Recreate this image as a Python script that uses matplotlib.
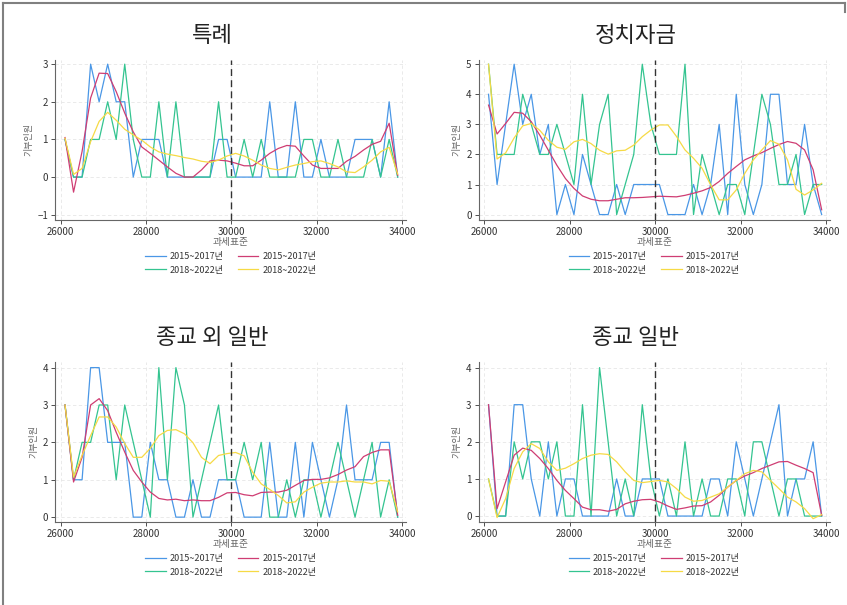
import matplotlib
matplotlib.use("Agg")
import matplotlib.pyplot as plt
from matplotlib.lines import Line2D

plt.rcParams["font.family"] = ["Noto Sans CJK KR", "DejaVu Sans"]

# 과세표준 bins (midpoints)
tax_base = [26100, 26300, 26500, 26700, 26900, 27100, 27300, 27500, 27700, 27900,
            28100, 28300, 28500, 28700, 28900, 29100, 29300, 29500, 29700, 29900,
            30100, 30300, 30500, 30700, 30900, 31100, 31300, 31500, 31700, 31900,
            32100, 32300, 32500, 32700, 32900, 33100, 33300, 33500, 33700, 33900]

titles = ["특례", "정치자금", "종교 외 일반", "종교 일반"]
legend_labels = ["2015~2017년", "2018~2022년", "2015~2017년", "2018~2022년"]

# panel 1: 특례
p1_raw_1517 = [1, 0, 0, 3, 2, 3, 2, 2, 0, 1, 1, 1, 0, 0, 0, 0, 0, 0, 1, 1,
               0, 0, 0, 0, 2, 0, 0, 2, 0, 0, 1, 0, 0, 0, 1, 1, 1, 0, 2, 0]
p1_raw_1822 = [1, 0, 0, 1, 1, 2, 1, 3, 1, 0, 0, 2, 0, 2, 0, 0, 0, 0, 2, 0,
               0, 1, 0, 1, 0, 0, 0, 0, 1, 1, 0, 0, 1, 0, 0, 0, 1, 0, 1, 0]
p1_fit_1517 = [1.05, -0.4, 0.68, 2.1, 2.76, 2.75, 2.27, 1.7, 1.2, 0.8,
               0.63, 0.45, 0.27, 0.1, 0.0, 0.0, 0.19, 0.43, 0.45, 0.43,
               0.37, 0.3, 0.3, 0.45, 0.63, 0.76, 0.84, 0.82, 0.56, 0.32,
               0.23, 0.23, 0.23, 0.42, 0.55, 0.72, 0.87, 0.95, 1.43, 0.05]
p1_fit_1822 = [1.03, 0.07, 0.23, 0.94, 1.48, 1.72, 1.51, 1.27, 1.12, 0.98,
               0.8, 0.67, 0.61, 0.57, 0.52, 0.48, 0.42, 0.39, 0.45, 0.56,
               0.63, 0.56, 0.45, 0.32, 0.23, 0.19, 0.26, 0.32, 0.36, 0.41,
               0.43, 0.36, 0.27, 0.14, 0.12, 0.27, 0.45, 0.67, 0.79, 0.08]

# panel 2: 정치자금
p2_raw_1517 = [4, 1, 3, 5, 3, 4, 2, 3, 0, 1, 0, 2, 1, 0, 0, 1, 0, 1, 1, 1,
               1, 0, 0, 0, 1, 0, 1, 3, 0, 4, 1, 0, 1, 4, 4, 1, 1, 3, 1, 0]
p2_raw_1822 = [5, 2, 2, 2, 4, 3, 2, 2, 3, 2, 1, 4, 1, 3, 4, 0, 1, 2, 5, 3,
               2, 2, 2, 5, 0, 2, 1, 0, 1, 1, 0, 2, 4, 3, 1, 1, 2, 0, 1, 1]
p2_fit_1517 = [3.64, 2.68, 3.03, 3.4, 3.37, 3.09, 2.64, 2.14, 1.64, 1.2,
               0.87, 0.62, 0.51, 0.46, 0.46, 0.51, 0.56, 0.56, 0.57, 0.59,
               0.61, 0.6, 0.59, 0.64, 0.71, 0.79, 0.9, 1.1, 1.37, 1.6,
               1.82, 1.95, 2.06, 2.2, 2.33, 2.43, 2.37, 2.15, 1.49, 0.16]
p2_fit_1822 = [5.0, 1.85, 2.05, 2.55, 2.95, 3.03, 2.8, 2.47, 2.24, 2.17,
               2.42, 2.5, 2.36, 2.14, 2.01, 2.12, 2.14, 2.31, 2.59, 2.81,
               2.98, 2.98, 2.6, 2.15, 1.87, 1.54, 0.99, 0.49, 0.49, 0.82,
               1.37, 1.82, 2.15, 2.46, 2.34, 1.82, 0.84, 0.65, 0.82, 1.04]

# panel 3: 종교 외 일반
p3_raw_1517 = [3, 1, 1, 4, 4, 2, 2, 2, 0, 0, 2, 1, 1, 0, 0, 1, 0, 0, 1, 1,
               1, 0, 0, 0, 2, 0, 0, 2, 0, 2, 1, 0, 1, 3, 1, 1, 1, 2, 2, 0]
p3_raw_1822 = [3, 1, 2, 2, 3, 3, 1, 3, 2, 1, 0, 4, 1, 4, 3, 0, 1, 2, 3, 1,
               1, 2, 1, 2, 0, 0, 1, 0, 1, 1, 0, 1, 2, 1, 0, 1, 2, 0, 1, 0]
p3_fit_1517 = [3.0, 0.94, 1.6, 3.0, 3.17, 2.85, 2.27, 1.74, 1.25, 0.94,
               0.67, 0.5, 0.46, 0.48, 0.44, 0.46, 0.44, 0.44, 0.53, 0.65,
               0.66, 0.6, 0.57, 0.66, 0.67, 0.67, 0.72, 0.85, 0.98, 1.01,
               1.01, 1.05, 1.14, 1.26, 1.35, 1.62, 1.73, 1.8, 1.8, 0.05]
p3_fit_1822 = [3.0, 1.07, 1.65, 2.18, 2.68, 2.68, 2.41, 1.97, 1.6, 1.6,
               1.84, 2.18, 2.32, 2.34, 2.23, 1.99, 1.6, 1.43, 1.65, 1.7,
               1.73, 1.64, 1.2, 0.89, 0.74, 0.58, 0.38, 0.41, 0.67, 0.8,
               0.91, 0.94, 0.94, 0.97, 0.94, 0.94, 0.89, 0.98, 0.96, 0.14]

# panel 4: 종교 일반
p4_raw_1517 = [3, 0, 0, 3, 3, 1, 0, 2, 0, 1, 1, 0, 0, 0, 0, 1, 0, 0, 1, 1,
               1, 0, 0, 0, 0, 0, 1, 1, 0, 2, 1, 0, 1, 2, 3, 0, 1, 1, 2, 0]
p4_raw_1822 = [1, 0, 0, 2, 1, 2, 2, 1, 2, 0, 0, 3, 0, 4, 2, 0, 1, 0, 3, 1,
               0, 1, 0, 2, 0, 1, 0, 0, 1, 1, 0, 2, 2, 1, 0, 1, 1, 0, 0, 0]
p4_fit_1517 = [3.0, 0.2, 0.92, 1.64, 1.83, 1.77, 1.55, 1.28, 0.96, 0.69,
               0.47, 0.24, 0.17, 0.17, 0.13, 0.18, 0.33, 0.4, 0.44, 0.45,
               0.38, 0.27, 0.18, 0.22, 0.27, 0.28, 0.38, 0.56, 0.78, 0.96,
               1.08, 1.17, 1.28, 1.37, 1.46, 1.47, 1.37, 1.28, 1.17, 0.02]
p4_fit_1822 = [1.0, -0.04, 0.47, 1.28, 1.73, 1.95, 1.82, 1.46, 1.23, 1.29,
               1.41, 1.55, 1.64, 1.68, 1.66, 1.46, 1.19, 0.96, 0.9, 0.93,
               0.96, 0.92, 0.74, 0.51, 0.4, 0.42, 0.51, 0.6, 0.78, 0.96,
               1.14, 1.23, 1.19, 0.96, 0.74, 0.51, 0.38, 0.2, -0.07, 0.04]

panels = [
    (p1_raw_1517, p1_raw_1822, p1_fit_1517, p1_fit_1822, [-1, 0, 1, 2, 3], (-1.14, 3.11)),
    (p2_raw_1517, p2_raw_1822, p2_fit_1517, p2_fit_1822, [0, 1, 2, 3, 4, 5], (-0.18, 5.14)),
    (p3_raw_1517, p3_raw_1822, p3_fit_1517, p3_fit_1822, [0, 1, 2, 3, 4], (-0.13, 4.15)),
    (p4_raw_1517, p4_raw_1822, p4_fit_1517, p4_fit_1822, [0, 1, 2, 3, 4], (-0.16, 4.15)),
]

c_blue = "#4a97e6"
c_green = "#34c490"
c_red = "#cf3d73"
c_yellow = "#f6da45"
x_ticks = [26000, 28000, 30000, 32000, 34000]

W, H = 847, 605
fig = plt.figure(figsize=(W / 100, H / 100), dpi=100)

# pixel boxes: left, top, right, bottom
boxes = [(55, 60, 406, 220), (478.5, 60, 830, 220),
         (55, 362, 406, 522), (478.5, 362, 830, 522)]
title_pos = [(212, 35), (636, 35), (212, 338), (636, 338)]

for k, (raw_a, raw_b, fit_a, fit_b, yt, ylim) in enumerate(panels):
    l, t, r, b = boxes[k]
    ax = fig.add_axes([l / W, 1 - b / H, (r - l) / W, (b - t) / H])
    ax.plot(tax_base, raw_a, color=c_blue, lw=0.9)
    ax.plot(tax_base, raw_b, color=c_green, lw=0.9)
    ax.plot(tax_base, fit_a, color=c_red, lw=0.9)
    ax.plot(tax_base, fit_b, color=c_yellow, lw=0.9)
    ax.axvline(30000, color="#333333", lw=1.0, ls=(0, (5, 3)))
    ax.set_xlim(25865, 34095)
    ax.set_ylim(*ylim)
    ax.set_xticks(x_ticks)
    ax.set_yticks(yt)
    ax.grid(True, color="#e6e6e6", lw=0.6, ls=(0, (4, 3)))
    ax.set_axisbelow(True)
    for s in ["top", "right"]:
        ax.spines[s].set_visible(False)
    for s in ["left", "bottom"]:
        ax.spines[s].set_color("#666666")
        ax.spines[s].set_linewidth(0.8)
    ax.tick_params(labelsize=7, colors="#333333", length=3, width=0.6, pad=2)
    ax.set_xlabel("과세표준", fontsize=7, color="#666666", labelpad=0)
    ax.set_ylabel("기부인원", fontsize=6.5, color="#666666", labelpad=3)

    tx, ty = title_pos[k]
    fig.text(tx / W, 1 - ty / H, titles[k], fontsize=16, color="#222222",
             ha="center", va="center")

    handles = [Line2D([], [], color=c, lw=0.9) for c in (c_blue, c_green, c_red, c_yellow)]
    fig.legend(handles, legend_labels, ncol=2, frameon=False, fontsize=6.5,
               loc="center", bbox_to_anchor=((l + r) / 2 / W, 1 - (b + 43.5) / H),
               handlelength=2.3, handletextpad=0.4, columnspacing=1.6,
               labelspacing=0.45, labelcolor="#333333")

# outer frame (left and top edges)
fig.add_artist(Line2D([3 / W, 3 / W], [0, 1 - 3 / H], color="#808080", lw=1.5))
fig.add_artist(Line2D([3 / W, 845 / W], [1 - 3 / H, 1 - 3 / H], color="#808080", lw=1.5))
fig.add_artist(Line2D([845 / W, 845 / W], [1 - 3 / H, 1 - 12 / H], color="#808080", lw=1.5))

fig.savefig("out.png", dpi=100, facecolor="white")
